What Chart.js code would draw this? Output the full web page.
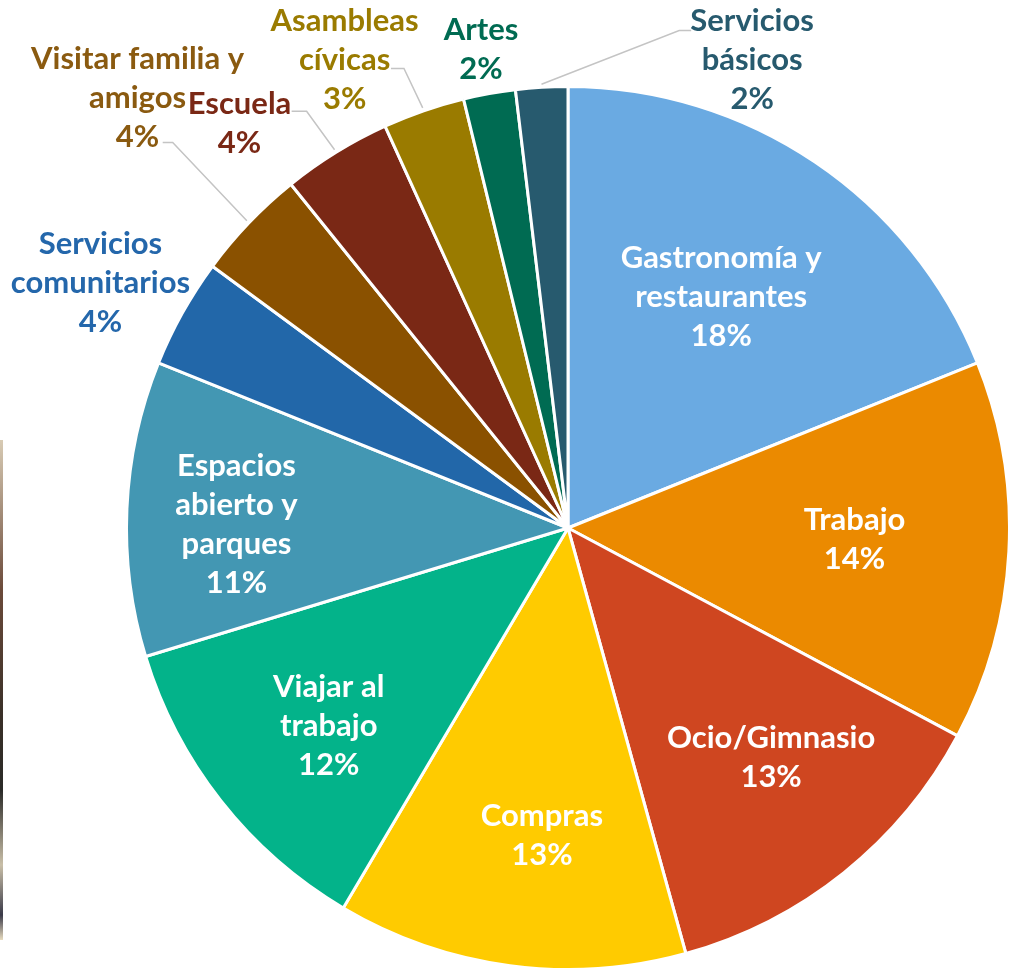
<!DOCTYPE html>
<html>
<head>
<meta charset="utf-8">
<script src="https://cdn.jsdelivr.net/npm/chart.js@4.4.0/dist/chart.umd.min.js"></script>
<style>
  html, body { margin: 0; padding: 0; background: #fff; }
  #wrap { position: relative; width: 1015px; height: 971px; }
  #edge { position: absolute; left: 0; top: 440px; width: 3px; height: 500px;
          background: linear-gradient(#d8cbb4 0%, #6b4a3a 30%, #3a3028 55%, #2a2a28 70%, #c9bfa8 85%, #3a3a48 95%, #e8dcc0 100%); }
</style>
</head>
<body>
<div id="wrap">
  <canvas id="chart" width="1015" height="971"></canvas>
  <div id="edge"></div>
</div>
<script>
const categories = [
    'Gastronomía y restaurantes', 'Trabajo', 'Ocio/Gimnasio', 'Compras',
    'Viajar al trabajo', 'Espacios abierto y parques', 'Servicios comunitarios',
    'Visitar familia y amigos', 'Escuela', 'Asambleas cívicas', 'Artes', 'Servicios básicos'
];
// shares
const shares = [18.9, 13.9, 12.9, 12.8, 11.8, 10.8, 4.0, 4.1, 4.0, 3.0, 1.9, 1.9];
// percentages as printed on the chart
const pctLabels = ['18%', '14%', '13%', '13%', '12%', '11%', '4%', '4%', '4%', '3%', '2%', '2%'];
const labelLines = [
    ['Gastronomía y', 'restaurantes'], ['Trabajo'], ['Ocio/Gimnasio'], ['Compras'],
    ['Viajar al', 'trabajo'], ['Espacios', 'abierto y', 'parques'], ['Servicios', 'comunitarios'],
    ['Visitar familia y', 'amigos'], ['Escuela'], ['Asambleas', 'cívicas'], ['Artes'], ['Servicios', 'básicos']
];
const sliceColors = [
    '#6aaae2', '#eb8a00', '#cf4620', '#ffcb00', '#03b38a', '#4397b3',
    '#2267a9', '#8a5100', '#7a2815', '#9a7b00', '#006b52', '#275a6e'
];
const textColors = [
    '#ffffff', '#ffffff', '#ffffff', '#ffffff', '#ffffff', '#ffffff',
    '#2467ab', '#8a5a10', '#7a2815', '#9a7b00', '#006b52', '#275a6e'
];
// label block centres, in units of the pie radius from its centre
const labelPos = [
    [0.347, -0.524], [0.649, 0.025], [0.460, 0.520], [-0.059, 0.697],
    [-0.542, 0.448], [-0.751, -0.009], [-1.059, -0.555], [-0.975, -0.975],
    [-0.744, -0.916], [-0.506, -1.061], [-0.197, -1.084], [0.417, -1.061]
];
// leader lines: slice index, label-side end (radius units), horizontal run in px
const leaders = [
    { i: 11, end: [0.279, -1.127], run: -12 },
    { i: 9, end: [-0.401, -1.041], run: 13 },
    { i: 8, end: [-0.626, -0.944], run: 15 },
    { i: 7, end: [-0.918, -0.873], run: 10 }
];

const pieLabels = {
    id: 'pieLabels',
    afterDraw(chart) {
        const ctx = chart.ctx;
        const arcs = chart.getDatasetMeta(0).data;
        const cx = arcs[0].x, cy = arcs[0].y, r = arcs[0].outerRadius;

        ctx.save();
        ctx.strokeStyle = '#c4c4c4';
        ctx.lineWidth = 1.5;
        leaders.forEach(function (l) {
            const a = arcs[l.i];
            const mid = (a.startAngle + a.endAngle) / 2;
            const sx = cx + Math.cos(mid) * (r + 3);
            const sy = cy + Math.sin(mid) * (r + 3);
            const ex = cx + l.end[0] * r;
            const ey = cy + l.end[1] * r;
            ctx.beginPath();
            ctx.moveTo(sx, sy);
            ctx.lineTo(ex + l.run, ey);
            ctx.lineTo(ex, ey);
            ctx.stroke();
        });

        ctx.font = 'bold 31px Lato';
        ctx.textAlign = 'center';
        ctx.textBaseline = 'middle';
        const lh = 39;
        labelLines.forEach(function (lines, i) {
            const all = lines.concat([pctLabels[i]]);
            const x = cx + labelPos[i][0] * r;
            const y0 = cy + labelPos[i][1] * r - (all.length - 1) * lh / 2;
            ctx.fillStyle = textColors[i];
            all.forEach(function (t, k) {
                ctx.fillText(t, x, y0 + k * lh);
            });
        });
        ctx.restore();
    }
};

new Chart(document.getElementById('chart'), {
    type: 'pie',
    data: {
        labels: categories,
        datasets: [{
            data: shares,
            backgroundColor: sliceColors,
            borderColor: '#ffffff',
            borderWidth: 3
        }]
    },
    options: {
        responsive: false,
        animation: false,
        layout: { padding: { left: 121, top: 85, right: 0, bottom: 0 } },
        plugins: {
            legend: { display: false },
            tooltip: { enabled: false }
        }
    },
    plugins: [pieLabels]
});
</script>
</body>
</html>
